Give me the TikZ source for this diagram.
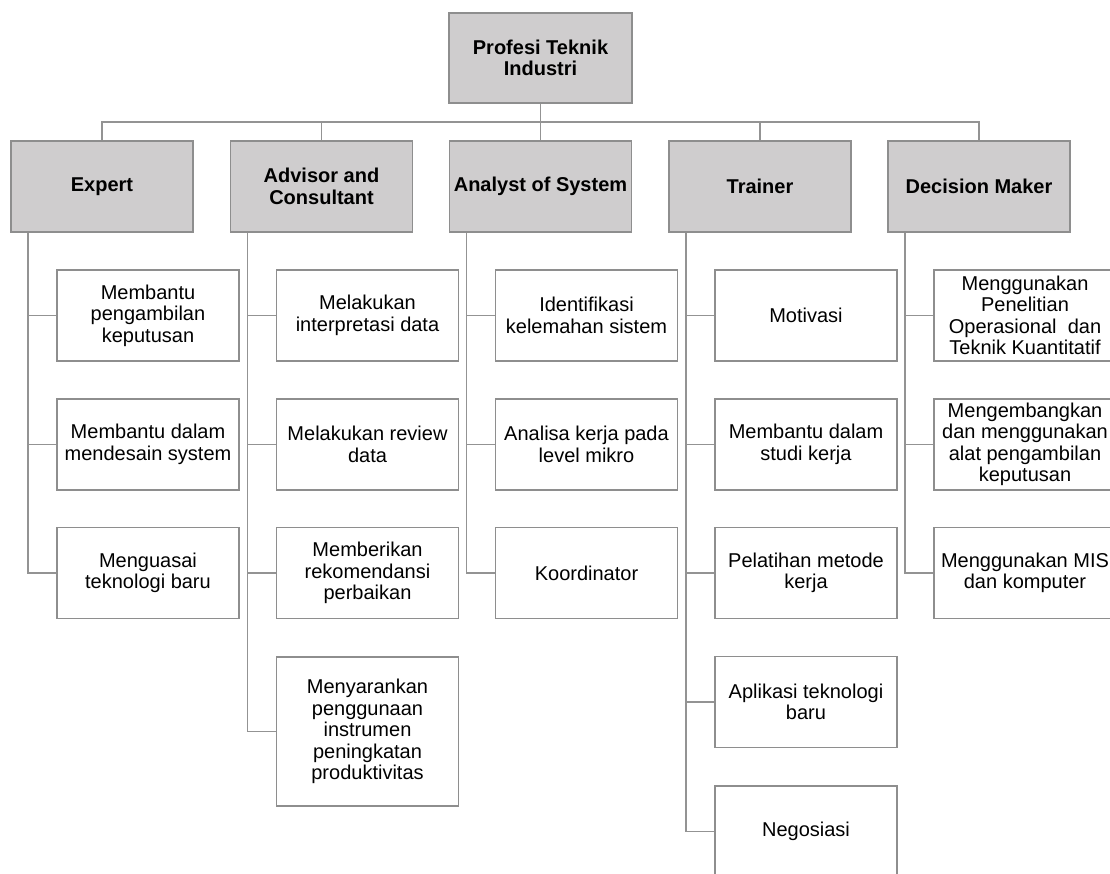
\documentclass[tikz,border=0pt]{standalone}
\usepackage{fontspec}
\setmainfont{Liberation Sans}
\definecolor{fillgray}{HTML}{CFCDCE}
\definecolor{boxgray}{HTML}{8E8E8E}
\definecolor{linegray}{HTML}{939393}
\tikzset{
  basebox/.style={draw=boxgray, line width=1.7pt, minimum width=182pt, minimum height=91pt, inner sep=0pt, align=center},
  lvl/.style={basebox, fill=fillgray, font=\bfseries\fontsize{20}{21.5}\selectfont},
  leaf/.style={basebox, fill=white, font=\fontsize{20}{21.5}\selectfont},
  conn/.style={draw=linegray, line width=1.5pt}
}
\begin{document}
\begin{tikzpicture}[x=1pt,y=-1pt]
\useasboundingbox[fill=white] (0,0) rectangle (1110,873);
% top
\node[lvl, minimum width=183pt, minimum height=90pt] (top) at (540.5,58) {Profesi Teknik\\Industri};
\coordinate (bus) at (0,122);
% level 2
\node[lvl] (e) at (102,186.5) {Expert};
\node[lvl] (a) at (321.5,186.5) {Advisor and\\Consultant};
\node[lvl] (s) at (540.5,186.5) {Analyst of System};
\node[lvl] (t) at (760,186.5) {Trainer};
\node[lvl] (d) at (979,186.5) {Decision Maker};
% leaves Expert
\node[leaf] (e1) at (148,315.5) {Membantu\\pengambilan\\keputusan};
\node[leaf] (e2) at (148,444.5) {Membantu dalam\\mendesain system};
\node[leaf] (e3) at (148,573) {Menguasai\\teknologi baru};
% Advisor
\node[leaf] (a1) at (367.5,315.5) {Melakukan\\interpretasi data};
\node[leaf] (a2) at (367.5,444.5) {Melakukan review\\data};
\node[leaf] (a3) at (367.5,573) {Memberikan\\rekomendansi\\perbaikan};
\node[leaf, minimum height=149pt] (a4) at (367.5,731.5) {Menyarankan\\penggunaan\\instrumen\\peningkatan\\produktivitas};
% Analyst
\node[leaf] (s1) at (586.5,315.5) {Identifikasi\\kelemahan sistem};
\node[leaf] (s2) at (586.5,444.5) {Analisa kerja pada\\level mikro};
\node[leaf] (s3) at (586.5,573) {Koordinator};
% Trainer
\node[leaf] (t1) at (806,315.5) {Motivasi};
\node[leaf] (t2) at (806,444.5) {Membantu dalam\\studi kerja};
\node[leaf] (t3) at (806,573) {Pelatihan metode\\kerja};
\node[leaf] (t4) at (806,702) {Aplikasi teknologi\\baru};
\node[leaf] (t5) at (806,831.5) {Negosiasi};
% Decision
\node[leaf] (d1) at (1025,315.5) {Menggunakan\\Penelitian\\Operasional~~dan\\Teknik Kuantitatif};
\node[leaf] (d2) at (1025,444.5) {Mengembangkan\\dan menggunakan\\alat pengambilan\\keputusan};
\node[leaf] (d3) at (1025,573) {Menggunakan MIS\\dan komputer};
% bus connectors
\draw[conn] (top.south) -- (top.south |- bus);
\draw[conn] (e.north) -- (e.north |- bus) -- (d.north |- bus) -- (d.north);
\draw[conn] (a.north) -- (a.north |- bus);
\draw[conn] (s.north) -- (s.north |- bus);
\draw[conn] (t.north) -- (t.north |- bus);
% spines
\foreach \p/\c in {e/e1,e/e2,e/e3,a/a1,a/a2,a/a3,a/a4,s/s1,s/s2,s/s3,t/t1,t/t2,t/t3,t/t4,t/t5,d/d1,d/d2,d/d3}{
  \draw[conn] ([xshift=18pt]\p.south west) |- (\c.west);
}
\end{tikzpicture}
\end{document}
